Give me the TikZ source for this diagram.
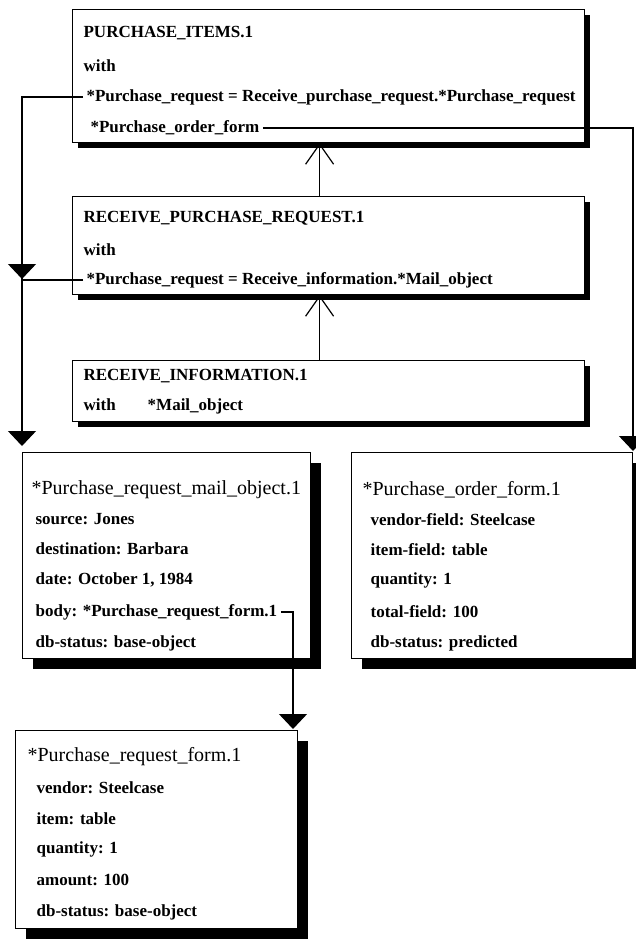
\documentclass[tikz,border=0pt]{standalone}
\usepackage{fontspec}
\setmainfont{Liberation Serif}
\usetikzlibrary{arrows.meta,shadows}

\begin{document}
\begin{tikzpicture}[x=1pt,y=-1pt,line width=1.2pt]
    \tikzstyle{frame} = [draw, fill=white, anchor=north west, inner sep=0pt]
    \tikzstyle{shade} = [drop shadow={fill=black, opacity=1, shadow xshift=5pt, shadow yshift=-5pt}]
    \tikzstyle{deepshade} = [drop shadow={fill=black, opacity=1, shadow xshift=10pt, shadow yshift=-10pt}]
    \tikzstyle{ln} = [anchor=west, inner xsep=3pt, inner ysep=0pt, font=\fontsize{17pt}{20pt}\selectfont\bfseries]
    \tikzstyle{hd} = [anchor=west, inner xsep=3pt, inner ysep=0pt, font=\fontsize{20pt}{24pt}\selectfont]
    \tikzstyle{tri} = [-{Triangle[width=28pt,length=15pt]}]
    \tikzstyle{barb} = [-{Straight Barb[width=28pt,length=20pt]}]
    \useasboundingbox (0,0) rectangle (636,944);

    % process frames
    \node[frame, shade, minimum width=512pt, minimum height=133pt] (items) at (72,9) {};
    \node[frame, shade, minimum width=512pt, minimum height=98pt] (recv) at (72,196) {};
    \node[frame, shade, minimum width=512pt, minimum height=61pt] (info) at (72,360) {};
    \node[ln] (itemsT) at (80,33) {PURCHASE\_ITEMS.1};
    \node[ln] (itemsW) at (80,66) {with};
    \node[ln] (pr1) at (83,97) {*Purchase\_request = Receive\_purchase\_request.*Purchase\_request};
    \node[ln] (pof) at (87,128) {*Purchase\_order\_form};
    \node[ln] (recvT) at (80,218) {RECEIVE\_PURCHASE\_REQUEST.1};
    \node[ln] (recvW) at (80,250) {with};
    \node[ln] (pr2) at (83,280) {*Purchase\_request = Receive\_information.*Mail\_object};
    \node[ln] (infoT) at (80,376) {RECEIVE\_INFORMATION.1};
    \node[ln] (infoW) at (80,406) {with\hspace*{32pt}*Mail\_object};

    % object frames
    \node[frame, deepshade, minimum width=288pt, minimum height=206pt] (mail) at (22,452) {};
    \node[frame, deepshade, minimum width=281pt, minimum height=206pt] (order) at (351,452) {};
    \node[frame, deepshade, minimum width=282pt, minimum height=198pt] (form) at (15,730) {};
    \node[hd] (mailT) at (28,490) {*Purchase\_request\_mail\_object.1};
    \node[ln] (mail1) at (32,519) {source: Jones};
    \node[ln] (mail2) at (32,549) {destination: Barbara};
    \node[ln] (mail3) at (32,580) {date: October 1, 1984};
    \node[ln] (body) at (32,612) {body: *Purchase\_request\_form.1};
    \node[ln] (mail5) at (32,643) {db-status: base-object};
    \node[hd] (orderT) at (359,490) {*Purchase\_order\_form.1};
    \node[ln] (order1) at (367,520) {vendor-field: Steelcase};
    \node[ln] (order2) at (367,550) {item-field: table};
    \node[ln] (order3) at (367,580) {quantity: 1};
    \node[ln] (order4) at (367,612) {total-field: 100};
    \node[ln] (order5) at (367,643) {db-status: predicted};
    \node[hd] (formT) at (24,757) {*Purchase\_request\_form.1};
    \node[ln] (form1) at (33,788) {vendor: Steelcase};
    \node[ln] (form2) at (33,819) {item: table};
    \node[ln] (form3) at (33,849) {quantity: 1};
    \node[ln] (form4) at (33,880) {amount: 100};
    \node[ln] (form5) at (33,912) {db-status: base-object};

    % connectors
    \coordinate (jl) at (22,446);
    \coordinate (jm) at (22,279);
    \coordinate (jr) at (633,451);
    \coordinate (jb) at (293,729);
    \draw[barb] ([xshift=-9pt]recv.north) -- ([xshift=-9pt]items.south);
    \draw[barb] ([xshift=-9pt]info.north) -- ([xshift=-9pt]recv.south);
    \draw[tri] (pr1.west) -| (jl);
    \draw[tri] (pr1.west -| jl) -- (jm);
    \draw (pr2.west) -- (pr2.west -| jl);
    \draw[tri] (pof.east) -| (jr);
    \draw[tri] (body.east) -| (jb);
\end{tikzpicture}
\end{document}
